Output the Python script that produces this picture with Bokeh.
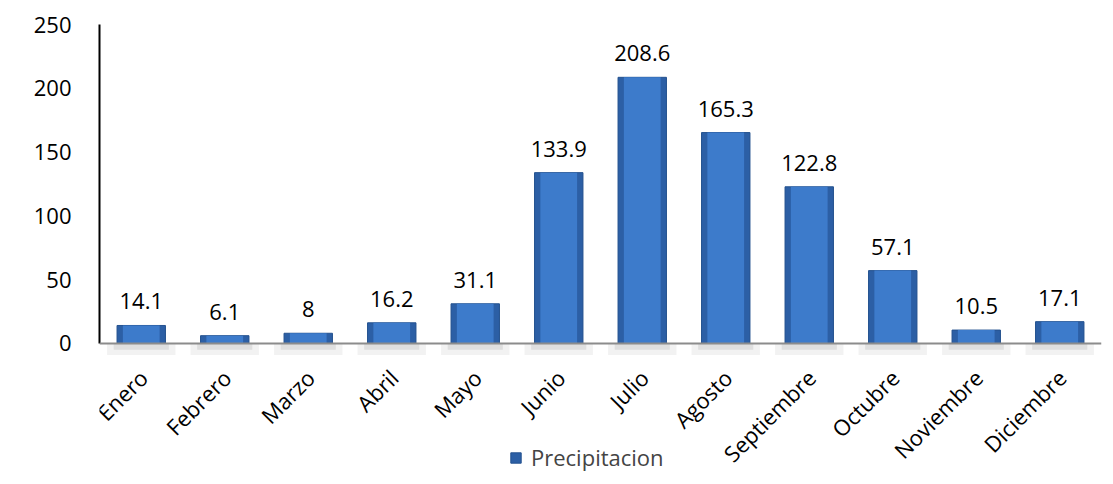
import math
from bokeh.plotting import figure
from bokeh.models import ColumnDataSource, FactorRange, Range1d, Legend, LegendItem, FixedTicker, Span
from bokeh.core.properties import value
from bokeh.embed import file_html
from bokeh.resources import INLINE

months = ["Enero", "Febrero", "Marzo", "Abril", "Mayo", "Junio", "Julio",
          "Agosto", "Septiembre", "Octubre", "Noviembre", "Diciembre"]
precip = [14.1, 6.1, 8, 16.2, 31.1, 133.9, 208.6, 165.3, 122.8, 57.1, 10.5, 17.1]
labels = ["14.1", "6.1", "8", "16.2", "31.1", "133.9", "208.6", "165.3", "122.8", "57.1", "10.5", "17.1"]
series_name = "Precipitacion"
y_ticks = [0, 50, 100, 150, 200, 250]
y_max = 250

src = ColumnDataSource(dict(m=months, v=precip, t=labels, z=[0] * len(months)))

FONT = "Open Sans"
FS = "22px"

# frame extends below the value axis so that category labels and legend fit inside it
p = figure(width=1113, height=484, x_range=FactorRange(*months, range_padding=0),
           y_range=Range1d(-107.4, y_max), output_backend="svg", toolbar_location=None,
           min_border_left=99, min_border_right=12, min_border_top=24, min_border_bottom=4)
p.x_range.factor_padding = 0
p.outline_line_color = None
p.xgrid.visible = False
p.ygrid.visible = False
p.xaxis.visible = False

# soft shadows below the bars
p.vbar(x="m", top="z", bottom=-9, width=0.82, source=src, fill_color="#000000",
       fill_alpha=0.05, line_color=None)
p.vbar(x="m", top="z", bottom=-5, width=0.66, source=src, fill_color="#000000",
       fill_alpha=0.08, line_color=None)

outer = p.vbar(x="m", top="v", width=0.58, source=src, fill_color="#2c5fa5",
               line_color="#24528f", line_width=1)
p.vbar(x="m", top="v", width=0.44, source=src, fill_color="#3d7bcb", line_color=None)

baseline = Span(location=0, dimension="width", line_color="#8c8c8c", line_width=2)
p.add_layout(baseline)

p.text(x="m", y="v", text="t", source=src, text_align="center", text_baseline="bottom",
       y_offset=-16, text_font=value(FONT), text_font_size=FS, text_color="#000000")

# category labels, rotated 45 degrees
p.text(x="m", y="z", text="m", source=src, angle=math.pi / 4, text_align="right",
       text_baseline="middle", x_offset=2, y_offset=30, text_font=value(FONT),
       text_font_size=FS, text_color="#000000")

p.yaxis.ticker = FixedTicker(ticks=y_ticks)
p.yaxis.bounds = (0, y_max)
p.yaxis.major_tick_line_color = None
p.yaxis.minor_tick_line_color = None
p.yaxis.axis_line_color = "#000000"
p.yaxis.axis_line_width = 2
p.yaxis.major_label_text_font = FONT
p.yaxis.major_label_text_font_size = FS
p.yaxis.major_label_text_color = "#000000"
p.yaxis.major_label_standoff = 22

legend = Legend(items=[LegendItem(label=series_name, renderers=[outer])],
                location=(410, 8), orientation="horizontal",
                glyph_width=13, glyph_height=13, padding=0, margin=0, spacing=0,
                label_text_font=FONT, label_text_font_size=FS, label_standoff=9,
                border_line_color=None, background_fill_alpha=0)
p.add_layout(legend, "center")

open("out.html", "w").write(file_html(p, INLINE))
